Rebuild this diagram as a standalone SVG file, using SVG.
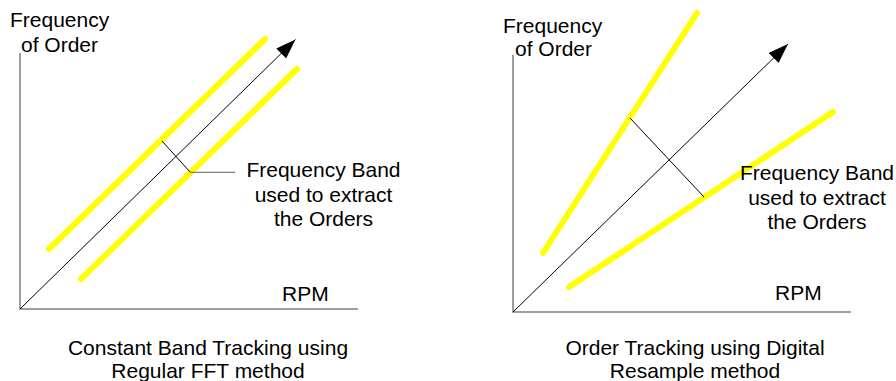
<svg xmlns="http://www.w3.org/2000/svg" width="896" height="381" viewBox="0 0 896 381">
<defs>
<style>
text{font-family:"Liberation Sans",Arial,sans-serif;font-size:21px;fill:#000}
.axis{stroke:#7f7f7f;stroke-width:1.5;fill:none}
.band{stroke:#ffff00;stroke-width:6;stroke-linecap:round;fill:none}
.thin{stroke:#000;stroke-width:1;fill:none}
.lead{stroke:#7f7f7f;stroke-width:1.2;fill:none}
.c{text-anchor:middle}
</style>
<marker id="ah" markerUnits="userSpaceOnUse" markerWidth="22" markerHeight="16" refX="20" refY="7" orient="auto">
<path d="M0,0 L20,7 L0,14 Z" fill="#000"/>
</marker>
</defs>
<rect width="896" height="381" fill="#fff"/>
<g id="left-chart">
<g id="left-axes">
<polyline class="axis" points="20,53 20,309 358,309"/>
<text x="10" y="27">Frequency</text>
<text x="21" y="52">of Order</text>
<text x="282" y="301">RPM</text>
</g>
<g id="left-bands">
<line class="band" x1="49" y1="249" x2="265" y2="39"/>
<line class="band" x1="81" y1="279" x2="297" y2="69"/>
</g>
<g id="left-label">
<text class="c" x="323.5" y="177">Frequency Band</text>
<text class="c" x="323.5" y="201.5">used to extract</text>
<text class="c" x="323.5" y="226">the Orders</text>
</g>
<g id="left-caption">
<text class="c" x="208" y="355">Constant Band Tracking using</text>
<text class="c" x="208" y="377.5">Regular FFT method</text>
</g>
</g>
<g id="right-chart">
<g id="right-axes">
<polyline class="axis" points="513,55 513,312 851,312"/>
<text x="503" y="33">Frequency</text>
<text x="515" y="56">of Order</text>
<text x="775" y="300">RPM</text>
</g>
<g id="right-bands">
<line class="band" x1="543" y1="253" x2="697" y2="13"/>
<line class="band" x1="569" y1="287" x2="833" y2="112"/>
</g>
<g id="right-label">
<text class="c" x="817" y="180">Frequency Band</text>
<text class="c" x="817" y="204.5">used to extract</text>
<text class="c" x="817" y="229">the Orders</text>
</g>
<g id="right-caption">
<text class="c" x="695" y="355">Order Tracking using Digital</text>
<text class="c" x="695" y="377.5">Resample method</text>
</g>
</g>
<g id="connectors">
<line class="thin" x1="20" y1="309" x2="295.5" y2="39.5" marker-end="url(#ah)"/>
<polyline class="thin" points="162,141 190,172"/>
<line class="lead" x1="190" y1="172.3" x2="235" y2="172.3"/>
<line class="thin" x1="513" y1="312" x2="788" y2="44" marker-end="url(#ah)"/>
<line class="thin" x1="630" y1="118" x2="704" y2="197"/>
</g>
</svg>
